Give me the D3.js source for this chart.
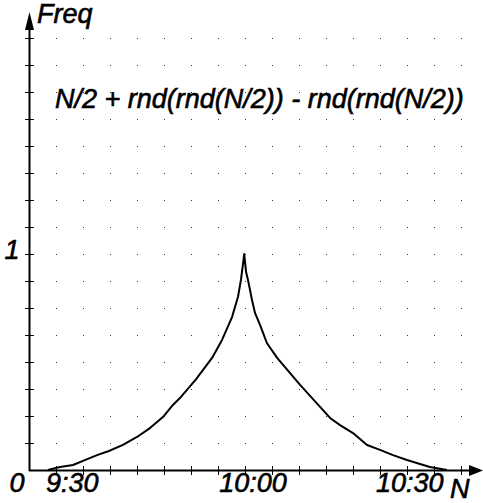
<!DOCTYPE html>
<html>
<head>
<meta charset="utf-8">
<script src="https://cdn.jsdelivr.net/npm/d3@7.9.0/dist/d3.min.js"></script>
<style>
  html, body { margin: 0; padding: 0; background: #fff; }
  svg { display: block; }
  text { font-family: "Liberation Sans", Arial, sans-serif; font-style: italic; font-size: 27px; fill: #000; stroke: #000; stroke-width: 0.6px; }
</style>
</head>
<body>
<svg id="chart" width="483" height="503"></svg>
<script>
// curve, x in grid steps (N), y in Freq
const curveX = [0.70, 1.15, 1.63, 2.00, 2.52, 2.96, 3.48, 4.00, 4.48, 4.96, 5.33, 5.59, 6.19, 6.78,
  7.15, 7.52, 7.74, 7.85, 7.93, 7.97, 8.04, 8.11, 8.26, 8.37, 8.56, 8.81, 9.19, 10.04, 10.78,
  11.15, 11.52, 12.00, 12.52, 13.00, 13.48, 14.00, 14.48, 14.85, 15.48];
const curveY = [0, 0.014, 0.023, 0.042, 0.069, 0.088, 0.116, 0.153, 0.194, 0.245, 0.301, 0.333, 0.421, 0.519,
  0.602, 0.708, 0.801, 0.880, 0.958, 1.0, 0.917, 0.880, 0.787, 0.727, 0.671, 0.588, 0.519, 0.394, 0.292,
  0.241, 0.208, 0.171, 0.116, 0.093, 0.069, 0.046, 0.028, 0.014, 0];

const xTickLabels = ["9:30", "10:00", "10:30"];
const xTickValues = [1.6, 8.3, 14.1];
const yTickLabels = ["1"];
const yTickValues = [1];
const title = "N/2 + rnd(rnd(N/2)) - rnd(rnd(N/2))";

const svg = d3.select('#chart');
const x = d3.scaleLinear().domain([0, 16]).range([29, 461]);
const y = d3.scaleLinear().domain([0, 2]).range([470, 38]);

const gridX = d3.range(1, 17);
const gridY = d3.range(1, 17).map(k => k / 8);

// dotted grid
gridY.forEach(gy => {
  gridX.forEach(gx => {
    svg.append('rect')
      .attr('x', Math.round(x(gx)))
      .attr('y', Math.round(y(gy)))
      .attr('width', 1).attr('height', 1)
      .attr('fill', '#333');
  });
});

// axes
svg.append('line')
  .attr('x1', x(0)).attr('x2', 472)
  .attr('y1', y(0) + 0.5).attr('y2', y(0) + 0.5)
  .attr('stroke', '#000').attr('stroke-width', 2);
svg.append('line')
  .attr('x1', x(0) + 0.5).attr('x2', x(0) + 0.5)
  .attr('y1', y(0) + 1).attr('y2', 28)
  .attr('stroke', '#000').attr('stroke-width', 2);

svg.append('path')
  .attr('d', `M${x(0) + 0.5},12 L${x(0) - 4},30 L${x(0) + 5},30 Z`)
  .attr('fill', '#000');
svg.append('path')
  .attr('d', `M483,${y(0) + 0.5} L469,${y(0) - 5} L469,${y(0) + 6} Z`)
  .attr('fill', '#000');

// ticks
gridX.forEach(gx => {
  svg.append('line')
    .attr('x1', Math.round(x(gx)) + 0.5).attr('x2', Math.round(x(gx)) + 0.5)
    .attr('y1', y(0) - 4).attr('y2', y(0) + 5)
    .attr('stroke', '#000').attr('stroke-width', 1);
});
gridY.forEach(gy => {
  svg.append('line')
    .attr('x1', x(0) - 4).attr('x2', x(0) + 5)
    .attr('y1', Math.round(y(gy)) + 0.5).attr('y2', Math.round(y(gy)) + 0.5)
    .attr('stroke', '#000').attr('stroke-width', 1);
});

// curve
const pts = curveX.map((d, i) => [d, curveY[i]]);
const line = d3.line().x(d => x(d[0])).y(d => y(d[1]));
svg.append('path')
  .attr('d', line(pts))
  .attr('fill', 'none')
  .attr('stroke', '#000')
  .attr('stroke-width', 2)
  .attr('stroke-linejoin', 'round');

// labels
xTickLabels.forEach((t, i) => {
  svg.append('text')
    .attr('x', x(xTickValues[i]))
    .attr('y', 492)
    .attr('text-anchor', 'middle')
    .text(t);
});
yTickLabels.forEach((t, i) => {
  svg.append('text')
    .attr('x', 12)
    .attr('y', y(yTickValues[i]) + 5)
    .attr('text-anchor', 'middle')
    .text(t);
});
svg.append('text').attr('x', 17).attr('y', 492).attr('text-anchor', 'middle').text('0');
svg.append('text').attr('x', 450).attr('y', 498).text('N');
svg.append('text').attr('x', 37).attr('y', 23).text('Freq');
svg.append('text').attr('x', 55).attr('y', 108).text(title);
</script>
</body>
</html>
